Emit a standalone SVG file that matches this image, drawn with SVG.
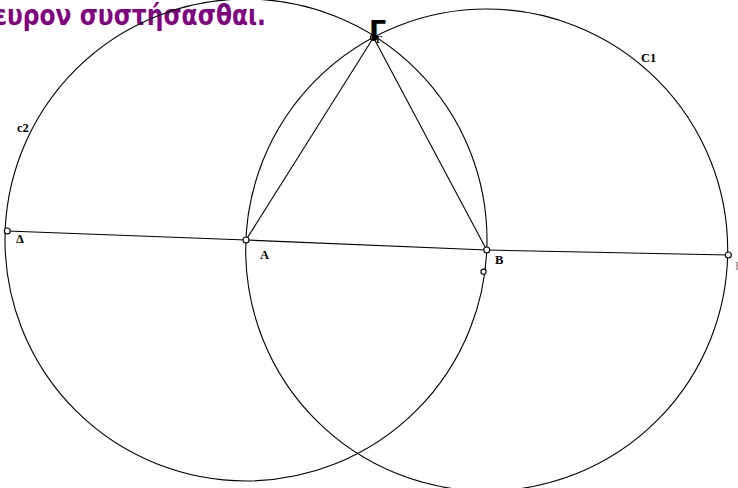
<svg xmlns="http://www.w3.org/2000/svg" width="738" height="488" viewBox="0 0 738 488">
<style>
.c{fill:none;stroke:#000;stroke-width:1.1}
.l{fill:none;stroke:#000;stroke-width:1.1}
.p{fill:#fff;stroke:#000;stroke-width:1.1}
.t{font-family:"Liberation Serif",serif;font-weight:bold;font-size:12.5px;fill:#000}
</style>
<rect width="738" height="488" fill="#fff"/>
<text x="-6" y="25" textLength="272" lengthAdjust="spacingAndGlyphs" font-family="DejaVu Sans,sans-serif" font-weight="bold" font-size="29" fill="#800080">ευρον συστήσασθαι.</text>
<g id="circles">
<circle id="c2" class="c" cx="246" cy="240" r="241"/>
<circle id="C1" class="c" cx="486.7" cy="250" r="241"/>
</g>
<g id="connectors">
<polyline class="l" points="7.3,231 246,240 486.7,250 728.3,255"/>
<line class="l" x1="246" y1="240" x2="373.5" y2="37.5"/>
<line class="l" x1="486.7" y1="250" x2="373.5" y2="37.5"/>
</g>
<g id="Delta"><circle class="p" cx="7.3" cy="231" r="3"/><text class="t" x="16" y="243">Δ</text></g>
<g id="A"><circle class="p" cx="246" cy="240" r="3"/><text class="t" x="260" y="259">A</text></g>
<g id="B"><circle class="p" cx="486.7" cy="250" r="3"/><text class="t" x="495" y="264">B</text></g>
<g id="P"><circle class="p" cx="483.5" cy="271.7" r="2.6"/></g>
<g id="E"><circle class="p" cx="728.3" cy="255" r="3"/><text x="735" y="270" font-family="Liberation Serif,serif" font-size="12" fill="#888">E</text></g>
<g id="Gamma"><circle class="p" cx="373.5" cy="37.5" r="3"/><text x="369" y="40" font-family="DejaVu Sans,sans-serif" font-weight="bold" font-size="27" fill="#000">Γ</text><text x="376" y="43" font-family="Liberation Serif,serif" font-weight="bold" font-size="10" fill="#000">Γ</text></g>
<g id="labels"><text class="t" x="17" y="132">c2</text><text class="t" x="641" y="62" font-size="13">C1</text></g>
</svg>
